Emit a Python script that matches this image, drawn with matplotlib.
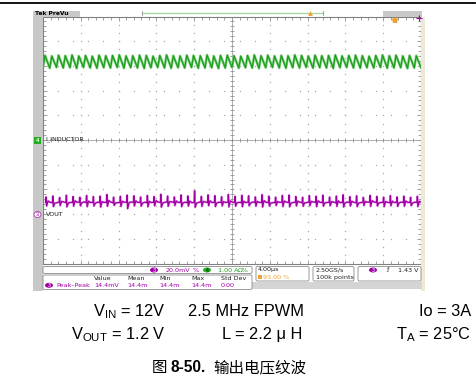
import numpy as np
import matplotlib.pyplot as plt
from matplotlib.patches import Rectangle, FancyBboxPatch, Ellipse

plt.rcParams['font.family'] = ['Liberation Sans', 'DejaVu Sans']
plt.rcParams['mathtext.fontset'] = 'custom'
plt.rcParams['mathtext.rm'] = 'Liberation Sans'
plt.rcParams['mathtext.it'] = 'Liberation Sans:italic'

# scope settings
time_per_div = 4.0          # us/div
n_div_x = 10
n_div_y = 10
i_scale = 1.00              # A/div, channel 4
i_offset = 0.0              # div
v_scale = 20.0              # mV/div, channel 3
v_offset = -3.0             # div

# inductor current, per switching cycle (A)
green_valley = [2.93, 2.91, 2.94, 2.92, 2.93, 2.90, 2.94, 2.92, 2.91, 2.93, 2.92, 2.94, 2.91, 2.93,
                2.92, 2.90, 2.93, 2.94, 2.92, 2.91, 2.93, 2.92, 2.94, 2.91, 2.92, 2.93, 2.90, 2.92,
                2.94, 2.91, 2.93, 2.92, 2.90, 2.93, 2.94, 2.92, 2.91, 2.93, 2.92, 2.94, 2.91, 2.93,
                2.92, 2.90, 2.93, 2.94, 2.92, 2.91, 2.93, 2.92, 2.94, 2.91, 2.92, 2.93, 2.90, 2.92]
green_peak = [3.42, 3.40, 3.43, 3.41, 3.44, 3.40, 3.42, 3.39, 3.43, 3.41, 3.42, 3.44, 3.40, 3.41,
              3.43, 3.42, 3.39, 3.42, 3.44, 3.41, 3.40, 3.43, 3.42, 3.41, 3.44, 3.40, 3.42, 3.43,
              3.41, 3.39, 3.42, 3.44, 3.41, 3.43, 3.40, 3.42, 3.41, 3.44, 3.42, 3.40, 3.43, 3.41,
              3.42, 3.44, 3.40, 3.42, 3.43, 3.41, 3.39, 3.42, 3.44, 3.41, 3.43, 3.40, 3.42, 3.41]

# output voltage ripple, per switching cycle (mV above ch3 marker)
vout_base = [9.6, 9.2, 9.8, 9.4, 9.5, 9.9, 9.3, 9.6, 9.4, 9.7, 9.2, 9.5, 9.8, 9.4,
             9.6, 9.3, 9.7, 9.5, 9.9, 9.4, 9.6, 9.2, 9.5, 9.8, 9.3, 9.6, 9.4, 9.7,
             9.5, 9.3, 9.8, 9.4, 9.6, 9.2, 9.5, 9.7, 9.4, 9.6, 9.3, 9.8, 9.5, 9.4,
             9.6, 9.2, 9.7, 9.5, 9.3, 9.6, 9.8, 9.4, 9.5, 9.3, 9.7, 9.4, 9.6, 9.5]
vout_spike = [13.9, 14.6, 13.4, 15.3, 14.2, 13.6, 15.0, 14.1, 14.5, 15.8, 13.7, 14.4, 15.4, 14.8,
              13.8, 15.1, 14.2, 16.0, 14.6, 13.9, 15.5, 14.7, 18.8, 14.3, 15.6, 14.9, 14.0, 15.9,
              14.4, 15.2, 14.8, 13.9, 15.7, 14.5, 13.7, 15.1, 15.4, 14.2, 13.6, 15.0, 14.4, 15.3,
              13.8, 14.6, 15.6, 14.1, 14.8, 13.5, 15.1, 14.3, 13.7, 14.9, 13.9, 14.5, 13.6, 14.4]
vout_dip = [6.6, 6.1, 6.9, 5.8, 6.4, 6.8, 6.0, 6.5, 5.7, 6.3, 7.0, 6.2, 4.4, 6.6,
            6.4, 5.9, 6.7, 5.6, 6.3, 6.9, 6.0, 6.5, 5.5, 6.2, 6.8, 6.1, 6.6, 5.8,
            6.4, 6.0, 6.7, 6.3, 5.7, 6.5, 6.9, 6.1, 5.9, 6.6, 6.3, 6.8, 6.0, 6.4,
            6.7, 6.2, 5.8, 6.5, 6.1, 6.9, 6.3, 6.6, 6.0, 6.7, 6.2, 6.4, 6.8, 6.1]
vout_mid = [10.6, 8.9, 10.3, 9.0, 10.8, 9.1, 10.5, 8.8, 10.2, 11.0, 9.0, 10.4, 9.2, 10.7,
            8.9, 10.3, 10.9, 9.0, 10.1, 10.6, 9.1, 10.5, 8.8, 10.2, 10.8, 9.0, 10.1, 10.7,
            9.2, 10.4, 8.8, 10.3, 10.9, 9.0, 10.2, 10.6, 8.9, 10.5, 9.1, 10.3, 10.8, 9.0,
            10.1, 10.7, 9.1, 10.4, 8.9, 10.3, 10.9, 9.0, 10.2, 10.5, 9.1, 10.6, 8.9, 10.3]

meas_labels = ['Value', 'Mean', 'Min', 'Max', 'Std Dev']
meas_values = ['14.4mV', '14.4m', '14.4m', '14.4m', '0.00']

n_cyc = len(green_peak)
t_end = time_per_div * n_div_x
period = t_end / n_cyc

# build traces from per-cycle values
t_i, y_i = [], []
for k, (lo, hi) in enumerate(zip(green_valley, green_peak)):
    t0 = k * period
    t_i += [t0, t0 + 0.3 * period]
    y_i += [lo / i_scale + i_offset, hi / i_scale + i_offset]
t_i.append(t_end)
y_i.append(green_valley[0] / i_scale + i_offset)

t_v, y_v = [], []
for k, (b, s, d, m) in enumerate(zip(vout_base, vout_spike, vout_dip, vout_mid)):
    t0 = k * period + 0.4 * period
    for frac, val in zip([0.0, 0.06, 0.14, 0.35, 0.65], [b, s, d, m, b]):
        t_v.append(t0 + frac * period)
        y_v.append(val / v_scale + v_offset)

fig = plt.figure(figsize=(4.77, 3.88), dpi=100)
W, H = 477, 388

# scope screen
px_l, px_r, px_t, px_b = 43, 421, 16.5, 263.5
ax = fig.add_axes([px_l / W, 1 - px_b / H, (px_r - px_l) / W, (px_b - px_t) / H], zorder=2)
ax.set_xlim(0, t_end)
ax.set_ylim(-n_div_y / 2, n_div_y / 2)
for s in ax.spines.values():
    s.set_color('#808080')
    s.set_linewidth(0.8)
ax.set_xticks(np.arange(0, t_end + 0.01, time_per_div))
ax.set_xticks(np.arange(0, t_end + 0.01, time_per_div / 5), minor=True)
ax.set_yticks(np.arange(-5, 5.01, 1))
ax.set_yticks(np.arange(-5, 5.01, 0.2), minor=True)
ax.tick_params(which='both', direction='in', top=True, right=True, color='#909090',
               labelbottom=False, labelleft=False, width=0.6)
ax.tick_params(which='major', length=3)
ax.tick_params(which='minor', length=2)

# dotted graticule
gx = np.arange(0, t_end + 0.01, time_per_div * 0.4)
gy = np.arange(-5, 5.01, 1 / 3)
for k in range(1, n_div_x):
    if k != n_div_x // 2:
        xs = np.full(len(gy), k * time_per_div)
        ax.plot(xs, gy, ls='none', marker='s', ms=0.9, color='#a8a8a8', mew=0)
for k in range(-4, 5):
    if k != 0:
        ys = np.full(len(gx), k)
        ax.plot(gx, ys, ls='none', marker='s', ms=0.9, color='#a8a8a8', mew=0)
# centre crosshair with small ticks
ax.axhline(0, color='#a0a0a0', lw=0.6)
ax.axvline(t_end / 2, color='#a0a0a0', lw=0.6)
cx = np.arange(0, t_end + 0.01, time_per_div / 5)
cy = np.arange(-5, 5.01, 0.2)
ax.plot(cx, np.zeros_like(cx), ls='none', marker='|', ms=3, mew=0.6, color='#909090')
ax.plot(np.full(len(cy), t_end / 2), cy, ls='none', marker='_', ms=3, mew=0.6, color='#909090')

ax.plot(t_i, y_i, color='#86d486', lw=1.9)
ax.plot(t_i, y_i, color='#1c9c1c', lw=0.9)
ax.plot(t_v, y_v, color='#e2a0e2', lw=1.6)
ax.plot(t_v, y_v, color='#a000a6', lw=0.9)

# overlay for the scope chrome and text
ov = fig.add_axes([0, 0, 1, 1], zorder=3)
ov.set_xlim(0, W)
ov.set_ylim(H, 0)
ov.axis('off')
ov.patch.set_alpha(0)

ov.plot([0, 475], [3, 3], color='black', lw=1.3)
ov.add_patch(Rectangle((33, 10.5), 10, 280, color='#c8c8c8', lw=0))
ov.add_patch(Rectangle((33, 10.5), 47, 6, color='#c8c8c8', lw=0))
ov.add_patch(Rectangle((383, 10.5), 39, 6, color='#c8c8c8', lw=0))
ov.add_patch(Rectangle((421.5, 16.5), 4, 274, color='#ece9d8', lw=0))
ov.add_patch(Rectangle((252, 282), 170, 7, color='#d4d4d4', lw=0))
ov.text(35, 13.5, 'Tek PreVu', fontsize=4.3, fontweight='bold', va='center', ha='left',
        family='DejaVu Sans')
ov.plot([142, 323], [13, 13], color='#a8d8a8', lw=1.0)
ov.plot([142, 142], [11, 15], color='#909090', lw=0.6)
ov.plot([323, 323], [11, 15], color='#909090', lw=0.6)
ov.plot(310, 13, marker='^', ms=3.5, color='#f0a030', mew=0)
ov.plot(395, 20, marker='p', ms=5, color='#f0a030', mew=0)
ov.plot(419, 17.5, marker='+', ms=4, color='#a000a6', mew=0.8)

# channel markers
ov.add_patch(Rectangle((34, 136.5), 7, 7, color='#22b022', lw=0))
ov.text(37.5, 140, '4', fontsize=4, color='white', ha='center', va='center', fontweight='bold')
ov.text(45.5, 139.5, 'I_INDUCTOR', fontsize=4.6, va='center', ha='left', color='#202020',
        family='DejaVu Sans')
ov.add_patch(Ellipse((37.5, 214.5), 7, 6, facecolor='white', edgecolor='#b050b0', lw=0.7))
ov.text(37.5, 214.5, '3', fontsize=4, color='#a000a6', ha='center', va='center')
ov.text(45.5, 214.5, 'VOUT', fontsize=4.6, va='center', ha='left', color='#202020',
        family='DejaVu Sans')

# status panel
def box(x0, y0, x1, y1):
    ov.add_patch(FancyBboxPatch((x0, y0), x1 - x0, y1 - y0, boxstyle='round,pad=0,rounding_size=1.5',
                                facecolor='white', edgecolor='#8a8a8a', lw=0.6))

def badge(x, y, label, color):
    ov.add_patch(Ellipse((x, y), 8, 5, color=color, lw=0))
    ov.text(x, y, label, fontsize=3.8, color='white' if color != '#22b022' else 'black',
            ha='center', va='center')

small = dict(fontsize=4.6, va='center', family='DejaVu Sans')
box(43, 266.5, 252, 273.5)
badge(154, 270, '3', '#a000a6')
ov.text(166, 270, '20.0mV', color='#a000a6', **small)
ov.text(193, 270, '%', color='#a000a6', **small)
badge(207, 270, '4', '#22b022')
ov.text(218, 270, '1.00 A', color='#1c9c1c', **small)
ov.text(238, 270, 'Ω%', color='#1c9c1c', **small)

box(43, 275, 252, 289.5)
col_x = [94, 127, 159, 191, 221]
for cx_, lab, val in zip(col_x, meas_labels, meas_values):
    ov.text(cx_, 278.8, lab, color='#202020', **small)
    ov.text(cx_, 285.3, val, color='#a000a6', **small)
badge(49, 285.3, '3', '#a000a6')
ov.text(56, 285.3, 'Peak\u2013Peak', color='#a000a6', **small)

box(256, 266.5, 309, 281)
ov.text(258, 270, '4.00µs', color='#202020', **small)
ov.add_patch(Rectangle((258, 275), 4, 4, color='#f0a030', lw=0))
ov.text(263.5, 277.3, '93.00 %', color='#f0a030', **small)

box(313, 266.5, 354, 281)
ov.text(316, 270, '2.50GS/s', color='#202020', **small)
ov.text(316, 277.3, '100k points', color='#202020', **small)

box(358, 266.5, 421, 281)
badge(373, 270, '3', '#a000a6')
ov.text(386, 270, 'ƒ', color='#202020', **small)
ov.text(419, 270, '1.43 V', color='#202020', ha='right', fontsize=4.6, va='center',
        family='DejaVu Sans')

# test conditions
fs = 11.8
ov.text(166, 316, r'V$_{\mathrm{IN}}$ = 12V', fontsize=fs, ha='right', va='baseline')
ov.text(188, 316, '2.5 MHz FPWM', fontsize=fs, ha='left', va='baseline')
ov.text(471, 316, 'Io = 3A', fontsize=fs, ha='right', va='baseline')
ov.text(166, 339, r'V$_{\mathrm{OUT}}$ = 1.2 V', fontsize=fs, ha='right', va='baseline')
ov.text(302, 339, 'L = 2.2 μ H', fontsize=fs, ha='right', va='baseline')
ov.text(471, 339, r'T$_{\mathrm{A}}$ = 25°C', fontsize=fs, ha='right', va='baseline')

# caption
ov.text(152, 372, '图', fontsize=11.2, ha='left', va='baseline', family='Noto Sans CJK SC')
ov.text(171, 372, '8-50.', fontsize=11.2, ha='left', va='baseline', fontweight='bold')
ov.text(213, 372, '输出电压纹波', fontsize=11.2, ha='left', va='baseline',
        family='Noto Sans CJK SC')

fig.savefig('out.png', dpi=100)
